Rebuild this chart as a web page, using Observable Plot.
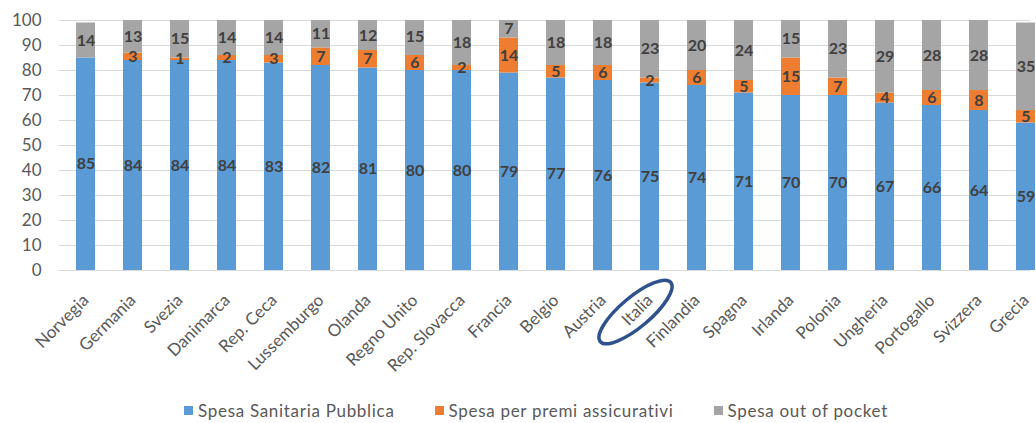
<!DOCTYPE html>
<html><head><meta charset="utf-8">
<script src="https://cdn.jsdelivr.net/npm/d3@7"></script>
<script src="https://cdn.jsdelivr.net/npm/@observablehq/plot@0.6"></script>
<style>
body{margin:0;background:#fff;font-family:Lato,"Open Sans",sans-serif;width:1036px;overflow:hidden;}
#legend{display:flex;align-items:center;height:25px;padding-left:184px;font-size:17px;letter-spacing:0.7px;color:#595959;}
#legend .item{display:flex;align-items:center;margin-right:40px;}
#legend .sw{width:9px;height:9px;margin-right:5px;display:inline-block;}
</style></head><body><div id="chart"></div><div id="legend"></div>
<script>
const countries = ["Norvegia","Germania","Svezia","Danimarca","Rep. Ceca","Lussemburgo","Olanda","Regno Unito","Rep. Slovacca","Francia","Belgio","Austria","Italia","Finlandia","Spagna","Irlanda","Polonia","Ungheria","Portogallo","Svizzera","Grecia"];
const pubblica    = [85,84,84,84,83,82,81,80,80,79,77,76,75,74,71,70,70,67,66,64,59];
const premi       = [0,3,1,2,3,7,7,6,2,14,5,6,2,6,5,15,7,4,6,8,5];
const outOfPocket = [14,13,15,14,14,11,12,15,18,7,18,18,23,20,24,15,23,29,28,28,35];
const seriesNames = ["Spesa Sanitaria Pubblica","Spesa per premi assicurativi","Spesa out of pocket"];
const seriesColors = ["#5b9bd5","#ed7d31","#a5a5a5"];
const yTicks = [0,10,20,30,40,50,60,70,80,90,100];
const highlight = "Italia";

const seriesValues = [pubblica, premi, outOfPocket];
const data = countries.flatMap((c, i) => seriesNames.map((s, k) => ({country: c, serie: s, value: seriesValues[k][i]})));

const ellipseMark = (index, scales) => {
  const sx = scales.x, sy = scales.y;
  const bw = typeof sx.bandwidth === "function" ? sx.bandwidth() : (sx.bandwidth || 0);
  const cx = sx(highlight) + bw / 2 - 14;
  const cy = sy(0) + 42;
  const g = d3.create("svg:g");
  g.append("ellipse")
    .attr("cx", cx).attr("cy", cy).attr("rx", 46).attr("ry", 15)
    .attr("transform", `rotate(-40 ${cx} ${cy})`)
    .attr("fill", "none").attr("stroke", "#2f528f").attr("stroke-width", 3.5);
  return g.node();
};

const chart = Plot.plot({
  width: 1036,
  height: 398,
  marginTop: 20,
  marginBottom: 128,
  marginLeft: 59,
  marginRight: 6,
  style: {fontFamily: "Lato, 'Open Sans', sans-serif", color: "#595959", background: "white", overflow: "visible"},
  x: {domain: countries, range: [59.5, 1050.5], paddingInner: 0.6, paddingOuter: 0.3, label: null},
  y: {domain: [0, 100], clamp: true, label: null},
  color: {domain: seriesNames, range: seriesColors},
  marks: [
    Plot.gridY(yTicks, {stroke: "#d9d9d9", strokeOpacity: 1, strokeWidth: 1}),
    Plot.barY(data, {x: "country", y: "value", fill: "serie", order: seriesNames}),
    Plot.text(data, Plot.stackY({x: "country", y: "value", z: "serie", order: seriesNames,
      text: d => d.value > 0 ? String(d.value) : "", fill: "#404040", fontSize: 16, fontWeight: "bold"})),
    Plot.axisY({ticks: yTicks, tickSize: 0, tickPadding: 18, fontSize: 17, label: null}),
    Plot.axisX({tickRotate: -45, tickSize: 0, tickPadding: 27, fontSize: 17, label: null}),
    ellipseMark
  ]
});
document.getElementById("chart").append(chart);

const legend = document.getElementById("legend");
seriesNames.forEach((s, k) => {
  const it = document.createElement("span"); it.className = "item";
  const sw = document.createElement("span"); sw.className = "sw"; sw.style.background = seriesColors[k];
  it.append(sw, document.createTextNode(s));
  legend.append(it);
});
</script></body></html>
